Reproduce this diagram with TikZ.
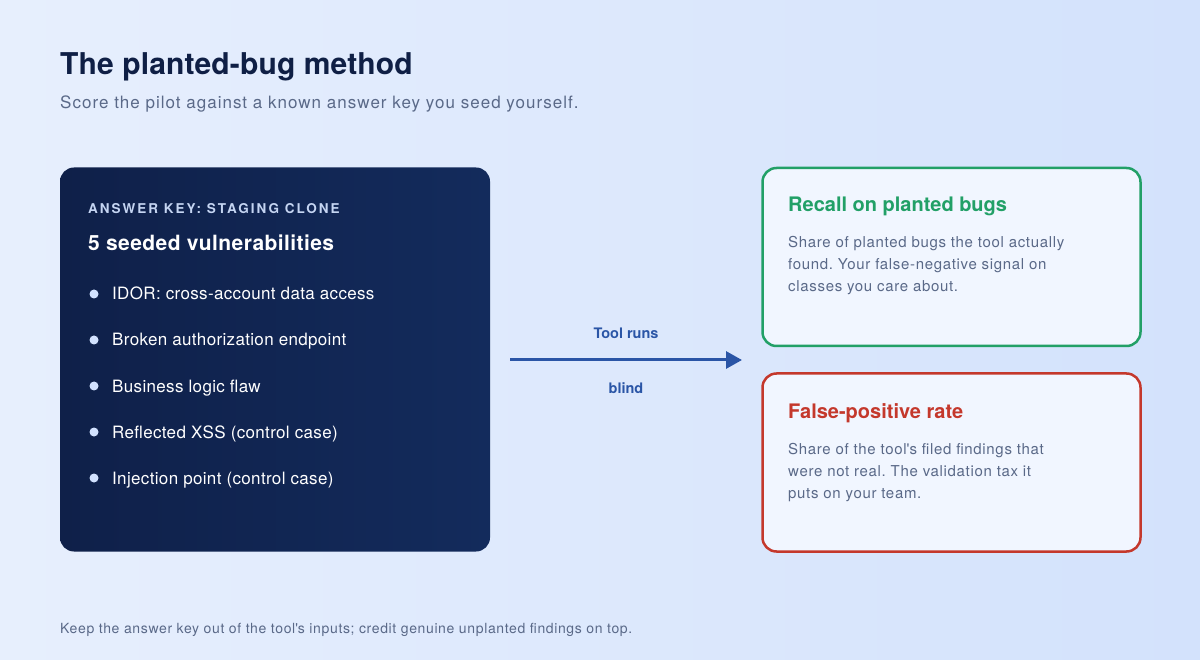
\documentclass[tikz,border=0pt]{standalone}
\usepackage{fontspec}
\setmainfont{TeX Gyre Heros}
\usetikzlibrary{positioning,arrows.meta}
\frenchspacing

\definecolor{bgA}{HTML}{E7EFFD}
\definecolor{bgB}{HTML}{D3E2FC}
\definecolor{navy}{HTML}{0F1F45}
\definecolor{slate}{HTML}{5A6988}
\definecolor{keyA}{HTML}{0F2049}
\definecolor{keyB}{HTML}{132B5C}
\definecolor{keyhead}{HTML}{C5D5F2}
\definecolor{dotblue}{HTML}{D2E2FF}
\definecolor{runblue}{HTML}{2A55A6}
\definecolor{okgreen}{HTML}{22A067}
\definecolor{fpred}{HTML}{C4382C}
\definecolor{cardfill}{HTML}{F1F6FF}

\newcommand\lsp[1]{\addfontfeature{LetterSpace=#1}}

\begin{document}
\begin{tikzpicture}[x=1pt,y=-1pt,
  every node/.style={inner sep=0pt,anchor=base west},
  card/.style={draw,line width=2.5pt,rounded corners=14pt,fill=cardfill,
    minimum width=378pt,minimum height=178pt,anchor=center},
  body/.style={font=\fontsize{15}{22}\selectfont\lsp{4.5},color=slate,align=left}]
  \tikzstyle{title} = [font=\fontsize{30}{34}\selectfont\bfseries\lsp{0.5},color=navy]
  \tikzstyle{item} = [font=\fontsize{17}{20}\selectfont\lsp{2},color=white]
  \tikzstyle{dot} = [circle,fill=dotblue,minimum size=9pt,anchor=center]
  \useasboundingbox (0,0) rectangle (1200,660);
  \fill[left color=bgA,right color=bgB] (0,0) rectangle (1200,660);
  \node (head) [title] at (60,75) {The planted-bug method};
  \node (sub) [font=\fontsize{17}{20}\selectfont\lsp{6},color=slate] at (60,109)
    {Score the pilot against a known answer key you seed yourself.};
  % answer key panel
  \node (key) [left color=keyA,right color=keyB,rounded corners=14pt,minimum width=430pt,
    minimum height=384pt,anchor=center] at (275,359.5) {};
  \node (keytag) [font=\fontsize{13.5}{16}\selectfont\bfseries\lsp{15},
    color=keyhead] at (88,214) {ANSWER KEY: STAGING CLONE};
  \node (keytitle) [font=\fontsize{21}{24}\selectfont\bfseries\lsp{2},color=white]
    at (88,251) {5 seeded vulnerabilities};
  \foreach \t [count=\i] in {IDOR: cross-account data access,
      Broken authorization endpoint,Business logic flaw,
      Reflected XSS (control case),Injection point (control case)} {
    \node (dot\i) [dot] at (94,248+46*\i) {};
    \node (item\i) [item] at (112,254+46*\i) {\t};
  }
  % the run
  \coordinate (runS) at (510,360);
  \coordinate (runE) at (742,360);
  \draw[runblue,line width=3pt,-{Triangle[length=16pt,width=17pt]}] (runS) -- (runE);
  \node (runs) [font=\fontsize{14.5}{17}\selectfont\bfseries,color=runblue,anchor=base]
    at (626,339) {Tool runs};
  \node (blind) [font=\fontsize{14.5}{17}\selectfont\bfseries,color=runblue,anchor=base]
    at (626,393) {blind};
  % metric cards
  \node (recall) [card,draw=okgreen] at (951.5,257) {};
  \node (recallhd) [font=\fontsize{20}{23}\selectfont\bfseries,color=okgreen]
    at (788,212) {Recall on planted bugs};
  \node (recalltx) [body] at (788,292)
    {Share of planted bugs the tool actually\\found. Your false-negative signal on\\classes you care about.};
  \node (fprate) [card,draw=fpred] at (951.5,462.5) {};
  \node (fpratehd) [font=\fontsize{20}{23}\selectfont\bfseries,color=fpred]
    at (788,418) {False-positive rate};
  \node (fpratetx) [body] at (788,498)
    {Share of the tool\textquotesingle s filed findings that\\were not real. The validation tax it\\puts on your team.};
  \node (foot) [font=\fontsize{14}{16}\selectfont\lsp{4.5},color=slate] at (60,633)
    {Keep the answer key out of the tool\textquotesingle s inputs; credit genuine unplanted findings on top.};
\end{tikzpicture}
\end{document}
